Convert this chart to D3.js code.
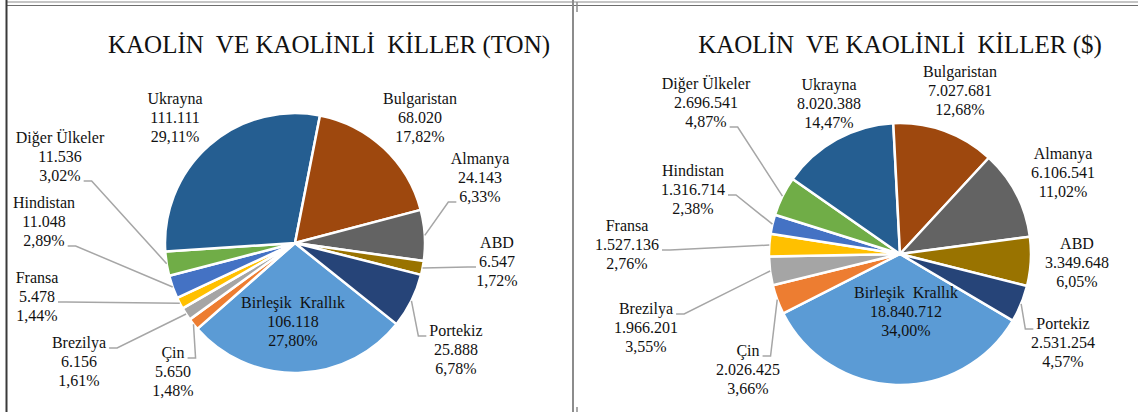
<!DOCTYPE html>
<html>
<head>
<meta charset="utf-8">
<script src="https://cdn.jsdelivr.net/npm/d3@7"></script>
</head>
<body style="margin:0">
<svg id="chart" width="1138" height="412"></svg>
<script>
// data (order as in the sheet: first slice is Birleşik Krallık)
const countries = ['Birleşik\u00a0 Krallık', 'Çin', 'Brezilya', 'Fransa', 'Hindistan', 'Diğer Ülkeler',
    'Ukrayna', 'Bulgaristan', 'Almanya', 'ABD', 'Portekiz'];
const tonValues = [106118, 5650, 6156, 5478, 11048, 11536, 111111, 68020, 24143, 6547, 25888];
const usdValues = [18840712, 2026425, 1966201, 1527136, 1316714, 2696541, 8020388, 7027681, 6106541, 3349648, 2531254];
const titles = ['KAOLİN\u00a0 VE KAOLİNLİ\u00a0 KİLLER (TON)', 'KAOLİN\u00a0 VE KAOLİNLİ\u00a0 KİLLER ($)'];
const colors = ['#5B9BD5', '#ED7D31', '#A5A5A5', '#FFC000', '#4472C4', '#70AD47',
    '#255E91', '#9E480E', '#636363', '#997300', '#264478'];

// label placement: [dx, dy from pie centre, line that takes the leader (-1 none)]
const tonLabels = [[-2, 79, -1], [-122, 129, 0], [-216, 119, 0], [-258, 54, 1], [-251, -21, 2], [-235, -86, 2],
    [-120, -125, -1], [125, -125, -1], [185, -65, 2], [202, 19, 1], [161, 107, 0]];
const usdLabels = [[6, 58, -1], [-152, 116, 0], [-254, 74, 0], [-273, -9, 1], [-207, -64, 1], [-194, -151, 2],
    [-71, -150, -1], [60, -163, -1], [163, -81, -1], [177, 9, -1], [163, 89, 0]];

const tr = d3.formatLocale({ decimal: ',', thousands: '.', grouping: [3], currency: ['', ''] });
const fmtNum = tr.format(',d');
const fmtPct = tr.format('.2f');
const FONT = 'Liberation Serif';

const svg = d3.select('#chart');

// frame lines like the sheet cells
const frame = svg.append('g').attr('id', 'frame');
frame.append('line').attr('x1', 6).attr('x2', 1138).attr('y1', 2).attr('y2', 2).attr('stroke', '#8c8c8c').attr('stroke-width', 1.2);
frame.append('line').attr('x1', 6).attr('x2', 1138).attr('y1', 5.5).attr('y2', 5.5).attr('stroke', '#6e6e6e').attr('stroke-width', 1.2);
frame.append('line').attr('x1', 6.5).attr('x2', 6.5).attr('y1', 0).attr('y2', 412).attr('stroke', '#3a3a3a').attr('stroke-width', 2);
frame.append('line').attr('x1', 573).attr('x2', 573).attr('y1', 0).attr('y2', 412).attr('stroke', '#8c8c8c').attr('stroke-width', 2);
frame.append('line').attr('x1', 577).attr('x2', 577).attr('y1', 2).attr('y2', 12).attr('stroke', '#8c8c8c').attr('stroke-width', 1.5);
frame.append('line').attr('x1', 577).attr('x2', 577).attr('y1', 407).attr('y2', 412).attr('stroke', '#8c8c8c').attr('stroke-width', 1.5);

function drawPie(opts) {
    const { values, labels, cx, cy, r, start, title, titleX } = opts;
    const total = d3.sum(values);
    const g = svg.append('g').attr('transform', `translate(${cx},${cy})`);

    svg.append('text')
        .attr('x', titleX)
        .attr('y', 53)
        .attr('text-anchor', 'middle')
        .attr('font-family', FONT)
        .attr('font-size', 25)
        .attr('fill', '#111')
        .text(title);

    const a0 = start * Math.PI / 180;
    const pie = d3.pie().sort(null).startAngle(a0).endAngle(a0 + 2 * Math.PI);
    const arcs = pie(values);
    const arc = d3.arc().innerRadius(0).outerRadius(r);
    const edge = d3.arc().innerRadius(r).outerRadius(r);

    g.selectAll('path.slice')
        .data(arcs)
        .join('path')
        .attr('class', 'slice')
        .attr('d', arc)
        .attr('fill', (d, i) => colors[i])
        .attr('stroke', '#fff')
        .attr('stroke-width', 2.5)
        .attr('stroke-linejoin', 'round');

    const lineH = 19;
    arcs.forEach((d, i) => {
        const [dx, dy, attach] = labels[i];
        const lines = [countries[i], fmtNum(values[i]), fmtPct(values[i] / total * 100) + '%'];
        const lg = g.append('g').attr('class', 'label');
        const texts = lines.map((s, k) =>
            lg.append('text')
                .attr('x', dx)
                .attr('y', dy + (k - 1) * lineH + 5)
                .attr('text-anchor', 'middle')
                .attr('font-family', FONT)
                .attr('font-size', 16)
                .attr('fill', '#111')
                .text(s));
        if (attach < 0) return;
        const [ax, ay] = edge.centroid(d);
        const t = texts[attach].node();
        const w = t.getComputedTextLength();
        const by = dy + (attach - 1) * lineH + 5;
        const left = dx < ax;
        const x0 = left ? dx + w / 2 + 3 : dx - w / 2 - 3;
        const x1 = left ? x0 + 8 : x0 - 8;
        g.insert('path', '.label')
            .attr('d', d3.line()([[x0, by], [x1, by], [ax, ay]]))
            .attr('fill', 'none')
            .attr('stroke', '#a6a6a6')
            .attr('stroke-width', 1.5);
    });
}

drawPie({ values: tonValues, labels: tonLabels, cx: 295, cy: 243, r: 130, start: 128.6, title: titles[0], titleX: 329 });
drawPie({ values: usdValues, labels: usdLabels, cx: 900, cy: 254, r: 131, start: 120.6, title: titles[1], titleX: 900 });
</script>
</body>
</html>
